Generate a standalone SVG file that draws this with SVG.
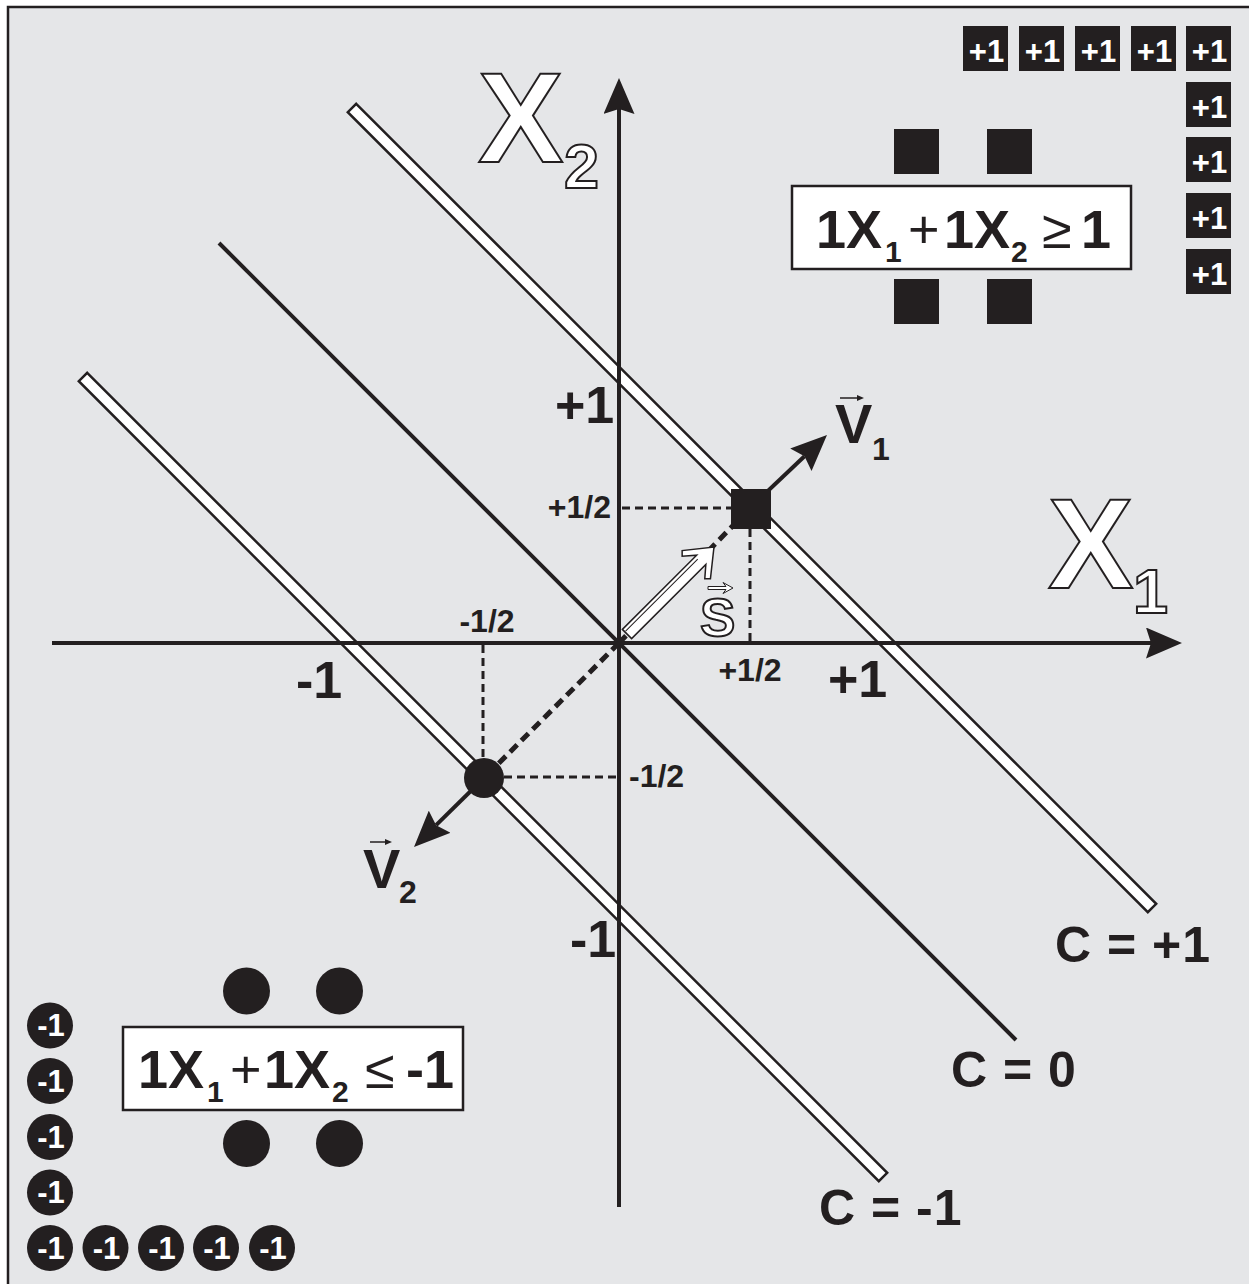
<svg xmlns="http://www.w3.org/2000/svg" width="1249" height="1284" viewBox="0 0 1249 1284">
<style>
.ink{fill:#231f20}
.t{font-family:"Liberation Sans",Arial,sans-serif;fill:#231f20}
.b{font-weight:bold}
.wt{font-family:"Liberation Sans",Arial,sans-serif;font-weight:bold;fill:#ffffff;font-size:31px;text-anchor:middle}
.out{font-family:"Liberation Sans",Arial,sans-serif;font-weight:bold;fill:#ffffff;stroke:#231f20;stroke-width:2}
.dbl{fill:#ffffff;stroke:#231f20;stroke-width:2.5;stroke-linejoin:miter}
.ax{stroke:#231f20;stroke-width:4;fill:none}
.thin{stroke:#231f20;stroke-width:3;stroke-dasharray:8 5;fill:none}
.thick{stroke:#231f20;stroke-width:5;stroke-dasharray:10 6;fill:none}
.box{fill:#ffffff;stroke:#231f20;stroke-width:2.5}
</style>
<defs>
<marker id="ah" viewBox="0 0 36 31" refX="5" refY="15.5" markerWidth="36" markerHeight="31" markerUnits="userSpaceOnUse" orient="auto">
<path d="M0,0 L36,15.5 L0,31 L5,15.5 Z" fill="#231f20"/>
</marker>
<rect id="pb" width="45" height="45" fill="#231f20"/>
</defs>
<rect x="0" y="0" width="1249" height="1284" fill="#ffffff"/>
<rect x="8" y="7" width="1300" height="1320" fill="#e5e6e8" stroke="#231f20" stroke-width="2.5"/>

<g id="lines">
<polygon class="dbl" points="356.2,103.8 1156.2,903.8 1147.8,912.2 347.8,112.2"/>
<polygon class="dbl" points="87.2,372.8 887.2,1172.8 878.8,1181.2 78.8,381.2"/>
<line x1="219" y1="243" x2="1016" y2="1040" stroke="#231f20" stroke-width="4"/>
</g>

<g id="connectors">
<line class="ax" x1="52" y1="643" x2="1151" y2="643" marker-end="url(#ah)"/>
<line class="ax" x1="619" y1="1207" x2="619" y2="109" marker-end="url(#ah)"/>
<line class="thin" x1="622" y1="508" x2="731" y2="508"/>
<line class="thin" x1="750" y1="529" x2="750" y2="641"/>
<line class="thin" x1="483" y1="645" x2="483" y2="758"/>
<line class="thin" x1="504" y1="777" x2="617" y2="777"/>
<line class="thick" x1="619" y1="643" x2="484" y2="778"/>
<line class="thick" x1="619" y1="643" x2="750" y2="508"/>
<line class="ax" x1="750" y1="508" x2="804.5" y2="456.3" marker-end="url(#ah)"/>
<line class="ax" x1="484" y1="778" x2="436.1" y2="825.2" marker-end="url(#ah)"/>
</g>

<g id="vector-s">
<g transform="translate(627,634) rotate(-45)">
<polygon points="0,-6.5 105,-6.5 94,-16 98,-20 123,0 98,20 94,16 105,6.5 0,6.5" fill="#ffffff" stroke="#231f20" stroke-width="1.5" stroke-linejoin="miter"/>
<line x1="1" y1="-3" x2="103" y2="-3" stroke="#231f20" stroke-width="1"/>
</g>
<text class="out" x="700" y="636" font-size="53" stroke-width="1.5">S</text>
<polygon points="708,586.5 726,586.5 723,582.5 733,588 723,593.5 726,589.5 708,589.5" fill="#ffffff" stroke="#231f20" stroke-width="1"/>
</g>

<g id="point-square">
<rect x="731" y="489" width="40" height="40" class="ink"/>
</g>
<g id="point-circle">
<circle cx="484" cy="778" r="20" class="ink"/>
</g>

<g id="label-x1">
<text class="out" x="1048" y="588" font-size="128">X</text>
<text class="out" x="1133" y="613" font-size="63">1</text>
</g>
<g id="label-x2">
<text class="out" x="478" y="162" font-size="128">X</text>
<text class="out" x="564" y="188" font-size="63">2</text>
</g>

<g id="label-v1">
<text class="t b" x="835" y="443" font-size="56">V</text>
<text class="t b" x="872" y="460" font-size="32">1</text>
<line x1="840" y1="398" x2="858" y2="398" stroke="#231f20" stroke-width="1.5"/>
<polygon points="857,395 864,398 857,401" class="ink"/>
</g>
<g id="label-v2">
<text class="t b" x="363" y="888" font-size="56">V</text>
<text class="t b" x="399" y="903" font-size="32">2</text>
<line x1="370" y1="842" x2="386" y2="842" stroke="#231f20" stroke-width="1.5"/>
<polygon points="385,839 392,842 385,845" class="ink"/>
</g>

<g id="tick-labels">
<text class="t b" x="555" y="423" font-size="52">+1</text>
<text class="t b" x="296" y="698" font-size="52">-1</text>
<text class="t b" x="828" y="697" font-size="52">+1</text>
<text class="t b" x="570" y="957" font-size="52">-1</text>
<text class="t b" x="611" y="518" font-size="32" text-anchor="end">+1/2</text>
<text class="t b" x="487" y="632" font-size="32" text-anchor="middle">-1/2</text>
<text class="t b" x="750" y="681" font-size="32" text-anchor="middle">+1/2</text>
<text class="t b" x="629" y="787" font-size="32">-1/2</text>
</g>

<g id="c-labels">
<text class="t b" x="1055" y="962" font-size="50" letter-spacing="1">C = +1</text>
<text class="t b" x="951" y="1087" font-size="50" letter-spacing="1">C = 0</text>
<text class="t b" x="819" y="1225" font-size="50" letter-spacing="1">C = -1</text>
</g>

<g id="class-plus">
<rect x="894" y="129" width="45" height="45" class="ink"/>
<rect x="987" y="129" width="45" height="45" class="ink"/>
<rect x="894" y="279" width="45" height="45" class="ink"/>
<rect x="987" y="279" width="45" height="45" class="ink"/>
<rect class="box" x="792" y="186" width="339" height="83"/>
<text class="t b" x="816" y="248" font-size="54">1X</text>
<text class="t b" x="885" y="262" font-size="30">1</text>
<text class="t" x="908" y="248" font-size="54">+</text>
<text class="t b" x="944" y="248" font-size="54">1X</text>
<text class="t b" x="1011" y="262" font-size="30">2</text>
<text class="t" x="1042" y="248" font-size="54">≥</text>
<text class="t b" x="1081" y="248" font-size="54">1</text>
</g>

<g id="class-minus">
<circle cx="246.5" cy="991" r="23.5" class="ink"/>
<circle cx="339.5" cy="991" r="23.5" class="ink"/>
<circle cx="246.5" cy="1143.5" r="23.5" class="ink"/>
<circle cx="339.5" cy="1143.5" r="23.5" class="ink"/>
<rect class="box" x="123" y="1027" width="340" height="83"/>
<text class="t b" x="138" y="1088" font-size="54">1X</text>
<text class="t b" x="207" y="1102" font-size="30">1</text>
<text class="t" x="230" y="1088" font-size="54">+</text>
<text class="t b" x="264" y="1088" font-size="54">1X</text>
<text class="t b" x="332" y="1102" font-size="30">2</text>
<text class="t" x="365" y="1088" font-size="54">≤</text>
<text class="t b" x="406" y="1088" font-size="54">-1</text>
</g>

<g id="plus-markers">
<use href="#pb" x="963" y="26"/><text class="wt" x="986.5" y="62">+1</text>
<use href="#pb" x="1019" y="26"/><text class="wt" x="1042.5" y="62">+1</text>
<use href="#pb" x="1075" y="26"/><text class="wt" x="1098.5" y="62">+1</text>
<use href="#pb" x="1131" y="26"/><text class="wt" x="1154.5" y="62">+1</text>
<use href="#pb" x="1186" y="26"/><text class="wt" x="1209.5" y="62">+1</text>
<use href="#pb" x="1186" y="82"/><text class="wt" x="1209.5" y="118">+1</text>
<use href="#pb" x="1186" y="137"/><text class="wt" x="1209.5" y="173">+1</text>
<use href="#pb" x="1186" y="193"/><text class="wt" x="1209.5" y="229">+1</text>
<use href="#pb" x="1186" y="249"/><text class="wt" x="1209.5" y="285">+1</text>
</g>

<g id="minus-markers">
<circle cx="50" cy="1025.5" r="23" class="ink"/><text class="wt" x="51" y="1036" font-size="30">-1</text>
<circle cx="50" cy="1081" r="23" class="ink"/><text class="wt" x="51" y="1091.5" font-size="30">-1</text>
<circle cx="50" cy="1137" r="23" class="ink"/><text class="wt" x="51" y="1147.5" font-size="30">-1</text>
<circle cx="50" cy="1192.5" r="23" class="ink"/><text class="wt" x="51" y="1203" font-size="30">-1</text>
<circle cx="50" cy="1248" r="23" class="ink"/><text class="wt" x="51" y="1258.5" font-size="30">-1</text>
<circle cx="105.5" cy="1248" r="23" class="ink"/><text class="wt" x="106.5" y="1258.5" font-size="30">-1</text>
<circle cx="161" cy="1248" r="23" class="ink"/><text class="wt" x="162" y="1258.5" font-size="30">-1</text>
<circle cx="216" cy="1248" r="23" class="ink"/><text class="wt" x="217" y="1258.5" font-size="30">-1</text>
<circle cx="272" cy="1248" r="23" class="ink"/><text class="wt" x="273" y="1258.5" font-size="30">-1</text>
</g>
</svg>
